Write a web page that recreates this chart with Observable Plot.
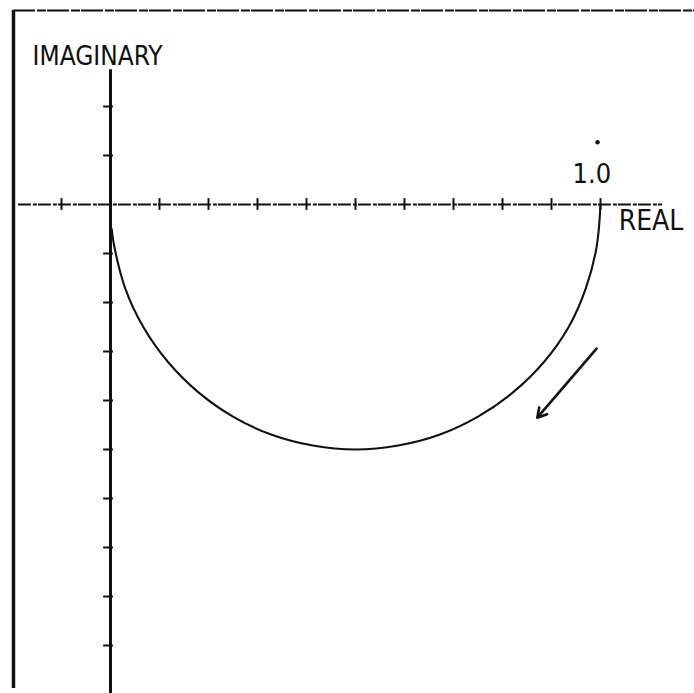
<!DOCTYPE html>
<html>
<head>
<meta charset="utf-8">
<script src="https://cdn.jsdelivr.net/npm/d3@7"></script>
<script src="https://cdn.jsdelivr.net/npm/@observablehq/plot@0.6"></script>
<style>
  html, body { margin: 0; padding: 0; background: #fff; }
  #chart svg { display: block; }
</style>
</head>
<body>
<div id="chart"></div>
<script>
// Nyquist locus of a first-order lag: real part vs imaginary part
const re = [1.0, 0.992, 0.970, 0.935, 0.885, 0.822, 0.750, 0.671, 0.587, 0.500, 0.413, 0.329, 0.250, 0.179, 0.117, 0.067, 0.030, 0.008, 0.0025];
const im = [0.0, -0.087, -0.171, -0.250, -0.321, -0.383, -0.433, -0.470, -0.492, -0.500, -0.492, -0.470, -0.433, -0.383, -0.321, -0.250, -0.171, -0.087, -0.050];

// tick values along each axis (step 0.1)
const realTicks = [-0.1, 0.1, 0.2, 0.3, 0.4, 0.5, 0.6, 0.7, 0.8, 0.9, 1.0];
const imagTicks = [0.2, 0.1, -0.1, -0.2, -0.3, -0.4, -0.5, -0.6, -0.7, -0.8, -0.9];

// direction of increasing frequency along the locus
const arrowFrom = {re: 0.992, im: -0.294};
const arrowTo = {re: 0.871, im: -0.435};

const locus = re.map((r, i) => ({re: r, im: im[i]}));

const W = 694, H = 693;
const ink = "#111";
const font = "'DejaVu Sans Condensed', 'DejaVu Sans', sans-serif";

const plot = Plot.plot({
  width: W,
  height: H,
  margin: 0,
  x: {domain: [-110 / 490, 584 / 490], axis: null},
  y: {domain: [-489 / 490, 204 / 490], axis: null},
  style: {background: "#fff", fontFamily: font},
  marks: [
    // outer border (left and top)
    Plot.ruleX([-0.198], {y1: 0.396, y2: -0.988, stroke: ink, strokeWidth: 3.5}),
    Plot.ruleY([0.396], {x1: -0.198, x2: 1.2, stroke: ink, strokeWidth: 2, strokeDasharray: "22,2,9,1"}),
    // axes
    Plot.ruleY([0], {x1: -0.188, x2: 1.127, stroke: ink, strokeWidth: 1.8, strokeDasharray: "13,2,4,1"}),
    Plot.ruleX([0], {y1: 0.275, y2: -1.0, stroke: ink, strokeWidth: 3}),
    // axis ticks
    Plot.ruleX(realTicks, {y1: -0.012, y2: 0.012, stroke: ink, strokeWidth: 2}),
    Plot.ruleY(imagTicks, {x1: -0.014, x2: 0.006, stroke: ink, strokeWidth: 2}),
    // the locus
    Plot.line(locus, {x: "re", y: "im", curve: "catmull-rom", stroke: ink, strokeWidth: 2.1}),
    // arrow beside the locus
    Plot.arrow([0], {
      x1: () => arrowFrom.re, y1: () => arrowFrom.im,
      x2: () => arrowTo.re, y2: () => arrowTo.im,
      stroke: ink, strokeWidth: 2.6, headLength: 6
    }),
    Plot.dot([0], {x: () => 0.994, y: () => 0.127, r: 2.2, fill: ink}),
    // labels
    Plot.text(["IMAGINARY"], {x: -0.159, y: 0.284, text: d => d, textAnchor: "start", lineAnchor: "bottom", fontSize: 26, fill: ink}),
    Plot.text(["1.0"], {x: 0.943, y: 0.043, text: d => d, textAnchor: "start", lineAnchor: "bottom", fontSize: 27, fill: ink}),
    Plot.text(["REAL"], {x: 1.037, y: -0.053, text: d => d, textAnchor: "start", lineAnchor: "bottom", fontSize: 28, fill: ink})
  ]
});

document.getElementById("chart").appendChild(plot);
</script>
</body>
</html>
